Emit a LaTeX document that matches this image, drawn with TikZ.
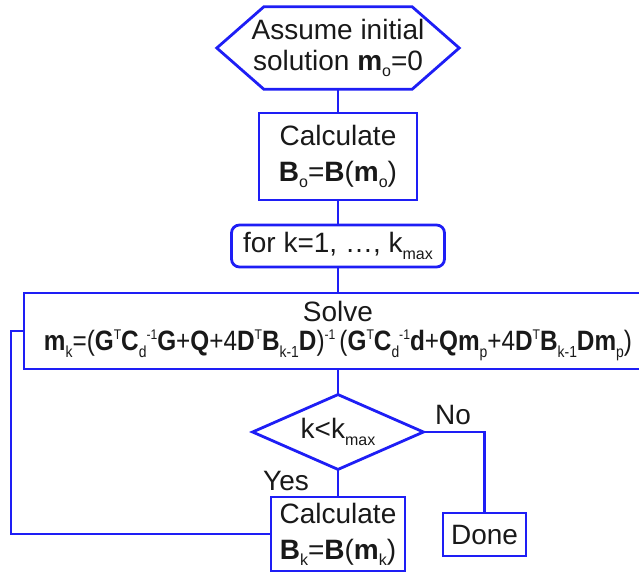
\documentclass[tikz,border=0pt]{standalone}
\usepackage{fontspec}
\usepackage{graphicx}
\setmainfont{Liberation Sans}
\usetikzlibrary{shapes.geometric}

\definecolor{flowblue}{RGB}{30,30,245}
\definecolor{ink}{RGB}{25,25,25}

% small lowered / raised scripts in running text
\newcommand\sbs[1]{\raisebox{-0.22em}{\fontsize{16}{16}\selectfont\mdseries #1}}
\newcommand\sps[1]{\raisebox{0.40em}{\fontsize{14}{14}\selectfont\mdseries #1}}
\newcommand\dsub[2]{\sbs{#1}\sps{#2}}

\tikzset{
  flow/.style={draw=flowblue, line width=2.8pt},
  txt/.style={text=ink, font=\fontsize{28}{33}\selectfont, align=center, inner sep=0pt},
  procbox/.style={txt, flow, rectangle},
  roundbox/.style={txt, flow, rectangle, rounded corners=8pt},
  decision/.style={txt, flow, diamond, aspect=2.26},
  link/.style={flow, line cap=rect},
}

\begin{document}
\begin{tikzpicture}[x=1pt, y=-1pt]
\useasboundingbox (0,0) rectangle (639,575);
\clip (0,0) rectangle (639,575);

% start: hexagon drawn around an invisible text node
\node[txt, minimum width=242pt, minimum height=82pt] (init) at (338,48)
  {Assume initial\\[-2pt]solution \textbf{m}\sbs{o}=0};
\draw[flow, line join=miter]
  (init.west) -- ([xshift=47pt]init.north west) -- ([xshift=-47pt]init.north east)
  -- (init.east) -- ([xshift=-47pt]init.south east) -- ([xshift=47pt]init.south west)
  -- cycle;

\node[procbox, minimum width=158pt, minimum height=87pt] (calc0) at (338,156.5)
  {Calculate\\[3pt]\textbf{B}\sbs{o}=\textbf{B}(\textbf{m}\sbs{o})};

\node[roundbox, minimum width=213pt, minimum height=42pt] (loop) at (338,246)
  {for k=1, \ldots, k\sbs{max}};

\node[procbox, minimum width=628pt, minimum height=76pt] (solve) at (338,331)
  {Solve\\[-4pt]
   \resizebox{588pt}{\height}{\textbf{m}\sbs{k}=(\textbf{G}\sps{T}\textbf{C}\dsub{d}{-1}\textbf{G}+\textbf{Q}+4\textbf{D}\sps{T}\textbf{B}\sbs{k-1}\textbf{D})\sps{-1}\,(\textbf{G}\sps{T}\textbf{C}\dsub{d}{-1}\textbf{d}+\textbf{Qm}\sbs{p}+4\textbf{D}\sps{T}\textbf{B}\sbs{k-1}\textbf{Dm}\sbs{p})}};

\node[decision, minimum width=172pt, minimum height=76pt] (dec) at (338,432)
  {k<k\sbs{max}};

\node[procbox, minimum width=134pt, minimum height=74pt] (calck) at (338,534)
  {Calculate\\[3pt]\textbf{B}\sbs{k}=\textbf{B}(\textbf{m}\sbs{k})};

\node[procbox, minimum width=83pt, minimum height=43pt] (done) at (484.5,534.5)
  {Done};

% branch labels
\node[txt] (yes) at (286,481) {Yes};
\node[txt] (no) at (453,415) {No};

% connectors
\draw[link] (init.south) -- (calc0.north);
\draw[link] (calc0.south) -- (loop.north);
\draw[link] (loop.south) -- (solve.north);
\draw[link] (solve.south) -- (dec.north);
\draw[link] (dec.south) -- (calck.north);
\draw[link] (dec.east) -| (done.north);

% return path of the iteration
\coordinate (back) at (11,534);
\draw[link, line join=miter] (calck.west) -- (back) |- (solve.west);
\end{tikzpicture}
\end{document}
